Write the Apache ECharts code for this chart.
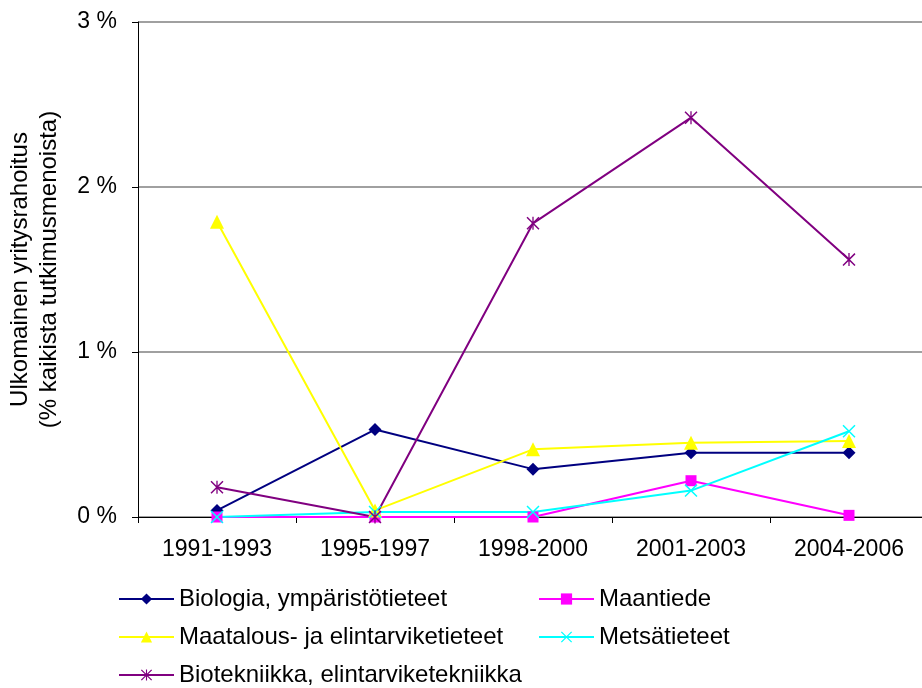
<!DOCTYPE html>
<html>
<head>
<meta charset="utf-8">
<script src="https://cdn.jsdelivr.net/npm/echarts@6/dist/echarts.min.js"></script>
<style>html,body{margin:0;padding:0;background:#fff}#c{width:922px;height:688px}</style>
</head>
<body>
<div id="c"></div>
<script>
const categories = ['1991-1993', '1995-1997', '1998-2000', '2001-2003', '2004-2006'];
const biologia = [0.04, 0.53, 0.29, 0.39, 0.39];
const maantiede = [0.00, 0.00, 0.00, 0.22, 0.01];
const maatalous = [1.79, 0.04, 0.41, 0.45, 0.46];
const metsa = [0.00, 0.03, 0.03, 0.16, 0.52];
const biotekniikka = [0.18, 0.00, 1.78, 2.42, 1.56];
const yTicks = [0, 1, 2, 3];
const seriesNames = ['Biologia, ympäristötieteet', 'Maantiede', 'Maatalous- ja elintarviketieteet', 'Metsätieteet', 'Biotekniikka, elintarviketekniikka'];

const xPath = 'path://M0,0.8 L0.8,0 L10,9.2 L9.2,10 Z M0.8,10 L0,9.2 L9.2,0 L10,0.8 Z';
const starPath = 'path://M0,0.8 L0.8,0 L10,9.2 L9.2,10 Z M0.8,10 L0,9.2 L9.2,0 L10,0.8 Z M4.5,0 L5.5,0 L5.5,10 L4.5,10 Z';

const FONT = '"Liberation Sans", Arial, sans-serif';
function mk(name, data, color, symbol, size) {
  return {
    name, type: 'line', data, symbol, symbolSize: size,
    lineStyle: { color, width: 2 },
    itemStyle: { color, borderWidth: 0 },
    emphasis: { disabled: true },
    animation: false
  };
}
const legendText = { color: '#000', fontSize: 24, fontFamily: FONT, lineHeight: 24 };
const legendPos = [[118, 587], [538, 587], [118, 625], [538, 625], [118, 663]];
const legends = seriesNames.map((n, i) => ({
  data: [n], left: legendPos[i][0], top: legendPos[i][1], padding: 0,
  itemWidth: 55, itemHeight: 14, textStyle: legendText, selectedMode: false
}));
const chart = echarts.init(document.getElementById('c'));
chart.setOption({
  backgroundColor: '#fff',
  animation: false,
  grid: { left: 138, right: -6, top: 22, bottom: 171, containLabel: false, outerBoundsMode: 'none' },
  xAxis: {
    type: 'category', data: categories, boundaryGap: true,
    axisLine: { lineStyle: { color: '#000', width: 1 } },
    axisTick: { show: true, length: 6, lineStyle: { color: '#000' } },
    axisLabel: { color: '#000', fontSize: 23, fontFamily: FONT, margin: 21 }
  },
  yAxis: {
    type: 'value', min: yTicks[0], max: yTicks[yTicks.length - 1], interval: 1,
    name: 'Ulkomainen yritysrahoitus\n(% kaikista tutkimusmenoista)',
    nameLocation: 'middle', nameGap: 74, nameRotate: 90,
    nameTextStyle: { color: '#000', fontSize: 24, fontFamily: FONT, lineHeight: 29 },
    axisLine: { show: true, lineStyle: { color: '#000', width: 1 } },
    axisTick: { show: true, length: 6, lineStyle: { color: '#000' } },
    axisLabel: { color: '#000', fontSize: 23, fontFamily: FONT, margin: 21, formatter: v => v + ' %' },
    splitLine: { show: true, lineStyle: { color: '#808080', width: 1.5 } }
  },
  legend: legends,
  series: [
    mk(seriesNames[0], biologia, '#000080', 'diamond', 13),
    mk(seriesNames[1], maantiede, '#FF00FF', 'rect', 11),
    mk(seriesNames[2], maatalous, '#FFFF00', 'triangle', 14),
    mk(seriesNames[3], metsa, '#00FFFF', xPath, 13),
    mk(seriesNames[4], biotekniikka, '#800080', starPath, 13)
  ]
});
</script>
</body>
</html>
